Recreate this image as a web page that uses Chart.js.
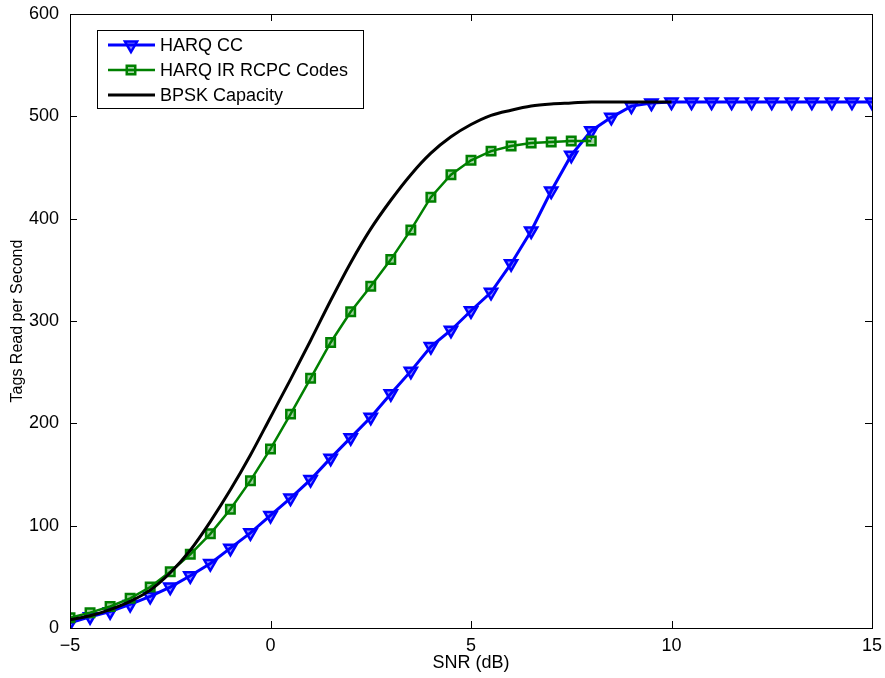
<!DOCTYPE html>
<html>
<head>
<meta charset="utf-8">
<script src="https://cdn.jsdelivr.net/npm/chart.js@4.4.0/dist/chart.umd.min.js"></script>
<style>
  html, body { margin: 0; padding: 0; background: #fff; }
  #wrap { width: 885px; height: 678px; }
</style>
</head>
<body>
<div id="wrap"><canvas id="snrChart" width="885" height="678"></canvas></div>
<script>
// SNR values (dB)
const snrCC = [-5, -4.5, -4, -3.5, -3, -2.5, -2, -1.5, -1, -0.5, 0, 0.5, 1, 1.5, 2, 2.5, 3, 3.5, 4, 4.5,
  5, 5.5, 6, 6.5, 7, 7.5, 8, 8.5, 9, 9.5, 10, 10.5, 11, 11.5, 12, 12.5, 13, 13.5, 14, 14.5, 15];
const harqCC = [5, 11, 16, 23, 31, 40, 51, 63, 78, 93, 110, 127, 145, 166, 186, 206, 229, 251, 275, 291,
  310, 328, 356, 388, 427, 462, 486, 499, 510, 513, 514, 514, 514, 514, 514, 514, 514, 514, 514, 514, 514];

const snrIR = [-5, -4.5, -4, -3.5, -3, -2.5, -2, -1.5, -1, -0.5, 0, 0.5, 1, 1.5, 2, 2.5, 3, 3.5, 4, 4.5,
  5, 5.5, 6, 6.5, 7, 7.5, 8];
const harqIR = [10, 15, 21, 29, 40, 55, 72, 92, 116, 144, 175, 209, 244, 279, 309, 334, 360, 389, 421, 443,
  457, 466, 471, 474, 475, 476, 476];

const snrCap = [-5, -4.5, -4, -3.5, -3, -2.5, -2, -1.5, -1, -0.5, 0, 0.5, 1, 1.5, 2, 2.5, 3, 3.5, 4, 4.5,
  5, 5.5, 6, 6.5, 7, 7.5, 8, 8.5, 9, 9.5, 10];
const bpskCap = [8, 12, 18, 26, 37, 54, 76, 104, 135, 169, 206, 243, 281, 320, 357, 390, 418, 443, 464, 480,
  492, 501, 506, 510, 512, 513, 514, 514, 514, 514, 514];

const xTicks = [-5, 0, 5, 10, 15];
const yTicks = [0, 100, 200, 300, 400, 500, 600];

const FONT = '"Liberation Sans", Arial, Helvetica, sans-serif';
const BLUE = '#0000ff';
const GREEN = '#008000';

const toPoints = (xs, ys) => xs.map((x, i) => ({ x: x, y: ys[i] }));

// MATLAB-style box with inward tick marks on all four sides
const frameTicks = {
  id: 'frameTicks',
  afterDraw(chart) {
    const { ctx, chartArea: a, scales } = chart;
    const len = 7;
    ctx.save();
    ctx.strokeStyle = '#000';
    ctx.lineWidth = 1;
    ctx.beginPath();
    xTicks.forEach(v => {
      const px = Math.round(scales.x.getPixelForValue(v)) + 0.5;
      ctx.moveTo(px, a.bottom); ctx.lineTo(px, a.bottom - len);
      ctx.moveTo(px, a.top); ctx.lineTo(px, a.top + len);
    });
    yTicks.forEach(v => {
      const py = Math.round(scales.y.getPixelForValue(v)) + 0.5;
      ctx.moveTo(a.left, py); ctx.lineTo(a.left + len, py);
      ctx.moveTo(a.right, py); ctx.lineTo(a.right - len, py);
    });
    ctx.stroke();
    ctx.strokeRect(Math.round(a.left) + 0.5, Math.round(a.top) + 0.5,
      Math.round(a.right - a.left), Math.round(a.bottom - a.top));
    ctx.restore();
  }
};

// legend box in the upper left of the axes
const boxLegend = {
  id: 'boxLegend',
  afterDraw(chart) {
    const { ctx, chartArea: a } = chart;
    const left = a.left + 27, top = a.top + 16, w = 266, h = 78;
    ctx.save();
    ctx.fillStyle = '#fff';
    ctx.fillRect(left, top, w, h);
    ctx.strokeStyle = '#000';
    ctx.lineWidth = 1;
    ctx.strokeRect(left + 0.5, top + 0.5, w, h);
    ctx.font = '18px ' + FONT;
    ctx.textBaseline = 'middle';
    chart.data.datasets.forEach((ds, i) => {
      const y = top + 15 + i * 25;
      ctx.strokeStyle = ds.borderColor;
      ctx.lineWidth = ds.borderWidth;
      ctx.beginPath();
      ctx.moveTo(left + 11, y);
      ctx.lineTo(left + 58, y);
      ctx.stroke();
      if (ds.pointRadius > 0) {
        ctx.fillStyle = ds.pointBackgroundColor;
        ctx.strokeStyle = ds.borderColor;
        ctx.lineWidth = ds.pointBorderWidth;
        Chart.helpers.drawPoint(ctx, {
          pointStyle: ds.pointStyle,
          rotation: ds.pointRotation || 0,
          radius: ds.pointRadius,
          borderWidth: ds.pointBorderWidth
        }, left + 34, y);
      }
      ctx.fillStyle = '#000';
      ctx.fillText(ds.label, left + 63, y + 1);
    });
    ctx.restore();
  }
};

new Chart(document.getElementById('snrChart').getContext('2d'), {
  type: 'line',
  data: {
    datasets: [{
      label: 'HARQ CC',
      data: toPoints(snrCC, harqCC),
      borderColor: BLUE,
      backgroundColor: 'rgba(0,0,0,0)',
      borderWidth: 3,
      pointStyle: 'triangle',
      pointRotation: 180,
      pointRadius: 7,
      pointBorderWidth: 2.5,
      pointBorderColor: BLUE,
      pointBackgroundColor: 'rgba(0,0,255,0.45)',
      tension: 0,
      order: 3
    }, {
      label: 'HARQ IR RCPC Codes',
      data: toPoints(snrIR, harqIR),
      borderColor: GREEN,
      backgroundColor: 'rgba(0,0,0,0)',
      borderWidth: 2.5,
      pointStyle: 'rect',
      pointRadius: 6,
      pointBorderWidth: 2.5,
      pointBorderColor: GREEN,
      pointBackgroundColor: 'rgba(0,128,0,0.35)',
      tension: 0,
      order: 2
    }, {
      label: 'BPSK Capacity',
      data: toPoints(snrCap, bpskCap),
      borderColor: '#000',
      backgroundColor: 'rgba(0,0,0,0)',
      borderWidth: 3,
      pointRadius: 0,
      cubicInterpolationMode: 'monotone',
      order: 1
    }]
  },
  options: {
    responsive: false,
    animation: false,
    layout: { padding: { left: 0, right: 13, top: 14, bottom: 0 } },
    plugins: {
      legend: { display: false },
      tooltip: { enabled: false }
    },
    scales: {
      x: {
        type: 'linear',
        min: -5,
        max: 15,
        afterFit: s => { s.height = 50; s.paddingLeft = 0; s.paddingRight = 0; },
        afterBuildTicks: s => { s.ticks = xTicks.map(v => ({ value: v })); },
        grid: { display: false, drawTicks: false },
        border: { display: false },
        ticks: {
          color: '#000',
          padding: 7,
          font: { family: FONT, size: 18 },
          maxRotation: 0,
          callback: v => String(v).replace('-', '\u2212')
        },
        title: {
          display: true,
          text: 'SNR (dB)',
          color: '#000',
          font: { family: FONT, size: 18 },
          padding: { top: 0, bottom: 4 }
        }
      },
      y: {
        min: 0,
        max: 600,
        afterFit: s => { s.width = 70; s.paddingTop = 0; s.paddingBottom = 0; },
        afterBuildTicks: s => { s.ticks = yTicks.map(v => ({ value: v })); },
        grid: { display: false, drawTicks: false },
        border: { display: false },
        ticks: {
          color: '#000',
          padding: 11,
          font: { family: FONT, size: 18 }
        },
        title: {
          display: true,
          text: 'Tags Read per Second',
          color: '#000',
          font: { family: FONT, size: 16 },
          padding: { top: 8, bottom: 0 }
        }
      }
    }
  },
  plugins: [frameTicks, boxLegend]
});
</script>
</body>
</html>
